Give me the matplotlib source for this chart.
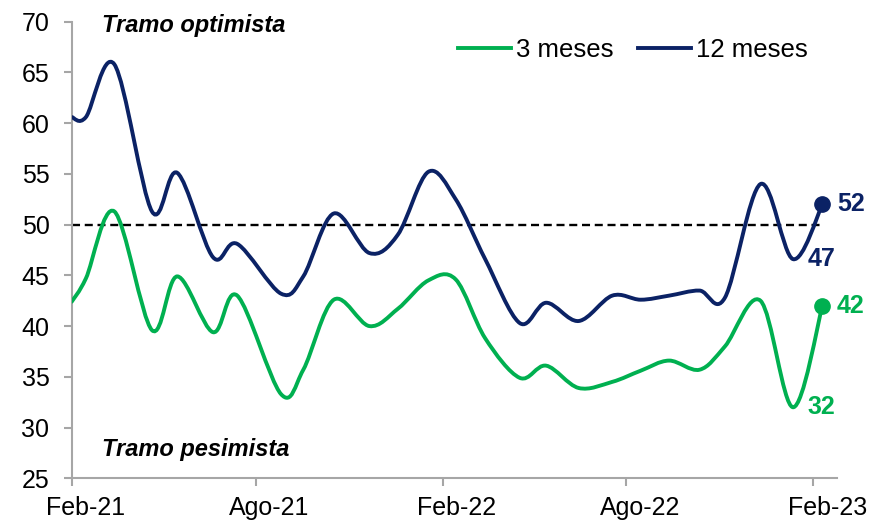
import numpy as np
import matplotlib
matplotlib.use('Agg')
import matplotlib.pyplot as plt
import matplotlib.dates as mdates
import matplotlib.transforms as mtransforms
from matplotlib.path import Path
from matplotlib.patches import PathPatch
from matplotlib.lines import Line2D

# fechas de cada encuesta
fechas = ['2021-02-01', '2021-02-15', '2021-03-15', '2021-04-21', '2021-05-16',
          '2021-06-20', '2021-07-14', '2021-08-26', '2021-09-17', '2021-10-17',
          '2021-11-21', '2021-12-19', '2022-01-18', '2022-02-14', '2022-03-15',
          '2022-04-18', '2022-05-14', '2022-06-15', '2022-07-18', '2022-08-15',
          '2022-09-12', '2022-10-12', '2022-11-06', '2022-12-11', '2023-01-12',
          '2023-02-10']
tres_meses = [42.4, 44.7, 51.3, 39.6, 44.9, 39.4, 43.0, 33.3, 35.7, 42.6,
              40.0, 41.7, 44.5, 44.6, 38.8, 34.9, 36.1, 33.9, 34.5, 35.6,
              36.6, 35.7, 38.0, 42.5, 32.0, 42.0]
doce_meses = [60.6, 60.6, 65.8, 51.3, 55.1, 46.8, 48.1, 43.2, 44.9, 51.1,
              47.2, 49.0, 55.2, 52.5, 46.6, 40.3, 42.3, 40.5, 43.0, 42.6,
              43.0, 43.5, 42.8, 54.0, 46.6, 52.0]
etiquetas_dato = {'3 meses': [24, 25], '12 meses': [24, 25]}  # indices con etiqueta
neutral = 50
ticks_fechas = ['2021-02-01', '2021-08-01', '2022-02-01', '2022-08-01', '2023-02-01']
ticks_etiquetas = ['Feb-21', 'Ago-21', 'Feb-22', 'Ago-22', 'Feb-23']
eje_fin = '2023-02-24'

verde = '#00B050'
azul = '#0B2265'
gris = '#A6A6A6'

plt.rcParams['font.family'] = ['Liberation Sans', 'DejaVu Sans']


def curva_suave(x, y):
    # linea suavizada tipo Excel (bezier con puntos de control Catmull-Rom)
    pts = np.column_stack([x, y])
    n = len(pts)
    verts = [pts[0]]
    codes = [Path.MOVETO]
    for i in range(n - 1):
        p0 = pts[max(i - 1, 0)]
        p1 = pts[i]
        p2 = pts[i + 1]
        p3 = pts[min(i + 2, n - 1)]
        verts += [p1 + (p2 - p0) / 6, p2 - (p3 - p1) / 6, p2]
        codes += [Path.CURVE4] * 3
    return Path(verts, codes)


x = mdates.datestr2num(fechas)

fig = plt.figure(figsize=(8.7, 5.23), dpi=100)
ax = fig.add_axes([0.0824, 0.0855, 0.8793, 0.873])

ax.plot([x[0], x[-1]], [neutral, neutral], color='black', lw=1.7,
        linestyle=(0, (3.4, 2.0)), zorder=1)

series = [('3 meses', tres_meses, verde), ('12 meses', doce_meses, azul)]
for nombre, valores, color in series:
    ax.add_patch(PathPatch(curva_suave(x, valores), fill=False, edgecolor=color,
                           lw=2.8, capstyle='round', joinstyle='round', zorder=3))
    ax.plot(x[-1], valores[-1], 'o', color=color, markersize=11, zorder=4)
    for i in etiquetas_dato[nombre]:
        ax.annotate(f'{valores[i]:.0f}', (x[i], valores[i]), xytext=(10.5, 0),
                    textcoords='offset points', va='center', ha='left',
                    fontsize=18, fontweight='bold', color=color)

ax.set_xlim(x[0], mdates.datestr2num(eje_fin))
ax.set_ylim(25, 70)
ax.set_yticks(np.arange(25, 71, 5))
ax.set_xticks(mdates.datestr2num(ticks_fechas))
ax.set_xticklabels(ticks_etiquetas)

for s in ['top', 'right']:
    ax.spines[s].set_visible(False)
for s in ['left', 'bottom']:
    ax.spines[s].set_color(gris)
    ax.spines[s].set_linewidth(1.5)
ax.tick_params(axis='both', direction='out', length=6, width=1.5, color=gris,
               labelsize=18, labelcolor='black')
ax.tick_params(axis='y', pad=10)
ax.tick_params(axis='x', pad=7)

desplaza = mtransforms.ScaledTranslation(0.14, 0, fig.dpi_scale_trans)
for lab in ax.get_xticklabels():
    lab.set_transform(lab.get_transform() + desplaza)

ax.text(0.0396, 0.9768, 'Tramo optimista', transform=ax.transAxes, fontsize=17,
        fontweight='bold', fontstyle='italic', va='baseline', ha='left')
ax.text(0.0396, 0.0488, 'Tramo pesimista', transform=ax.transAxes, fontsize=17,
        fontweight='bold', fontstyle='italic', va='baseline', ha='left')

handles = [Line2D([], [], color=c, lw=2.8) for _, _, c in series]
fig.legend(handles, [n for n, _, _ in series], loc='center',
           bbox_to_anchor=(0.727, 0.904), ncol=2, frameon=False, fontsize=18.5,
           handlelength=2.06, handletextpad=0.2, columnspacing=0.95, borderpad=0)

fig.savefig('out.png', dpi=100)
